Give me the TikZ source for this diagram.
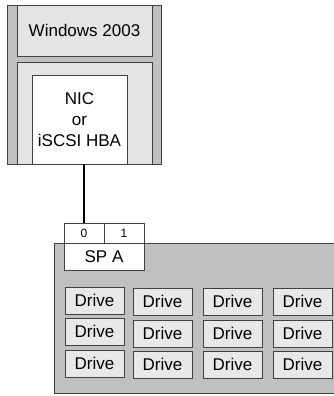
\documentclass[tikz,border=0pt]{standalone}
\usepackage{fontspec}
\setmainfont{Liberation Sans}
\definecolor{encl}{HTML}{C0C0C0}
\definecolor{panel}{HTML}{E4E4E4}
\definecolor{drivefill}{HTML}{E8E8E8}
\definecolor{edge}{HTML}{404040}
\begin{document}
\begin{tikzpicture}[x=1pt,y=-1pt,
  box/.style={draw=edge, line width=0.9pt, inner sep=0pt, outer sep=0pt},
  drivebox/.style={box, fill=drivefill, minimum width=59pt, minimum height=27pt, font=\fontsize{17}{20}\selectfont},
  portbox/.style={box, fill=white, minimum width=40pt, minimum height=20pt, font=\fontsize{12}{14}\selectfont},
  link/.style={line width=2pt, black}]
\useasboundingbox (0,0) rectangle (334,396);
\clip (0,0) rectangle (334,396);
% server
\node[box, fill=encl, anchor=north west, minimum width=154pt, minimum height=159pt] (server) at (7,5) {};
\node[box, fill=panel, anchor=north west, minimum width=135pt, minimum height=51pt,
      font=\fontsize{17}{20}\selectfont] (os) at (17,5) {Windows 2003};
\node[box, fill=panel, anchor=north west, minimum width=135pt, minimum height=102pt] (slot) at (17,62) {};
\node[box, fill=white, anchor=north west, minimum width=95pt, minimum height=89pt,
      align=center, font=\fontsize{17}{21}\selectfont] (nic) at (32,75) {NIC\\or\\iSCSI HBA};
% storage enclosure
\node[box, fill=encl, anchor=north west, minimum width=290pt, minimum height=150pt] (encl) at (54,243) {};
% SP
\node[portbox, anchor=north west] (p0) at (64,223) {0};
\node[portbox, anchor=north west] (p1) at (104,223) {1};
\node[box, fill=white, anchor=north west, minimum width=80pt, minimum height=27pt,
      font=\fontsize{17}{20}\selectfont] (spa) at (64,243) {SP A};
% drives
\node[drivebox, anchor=north west] (d11) at (65,287) {Drive};
\node[drivebox, anchor=north west] (d21) at (65,318) {Drive};
\node[drivebox, anchor=north west] (d31) at (65,350) {Drive};
\foreach \c/\x in {2/133,3/203,4/273}{
  \node[drivebox, anchor=north west] (d1\c) at (\x,288) {Drive};
  \node[drivebox, anchor=north west] (d2\c) at (\x,320) {Drive};
  \node[drivebox, anchor=north west] (d3\c) at (\x,351) {Drive};
}
% connector
\draw[link] (p0.north |- nic.south) -- (p0.north);
\end{tikzpicture}
\end{document}
